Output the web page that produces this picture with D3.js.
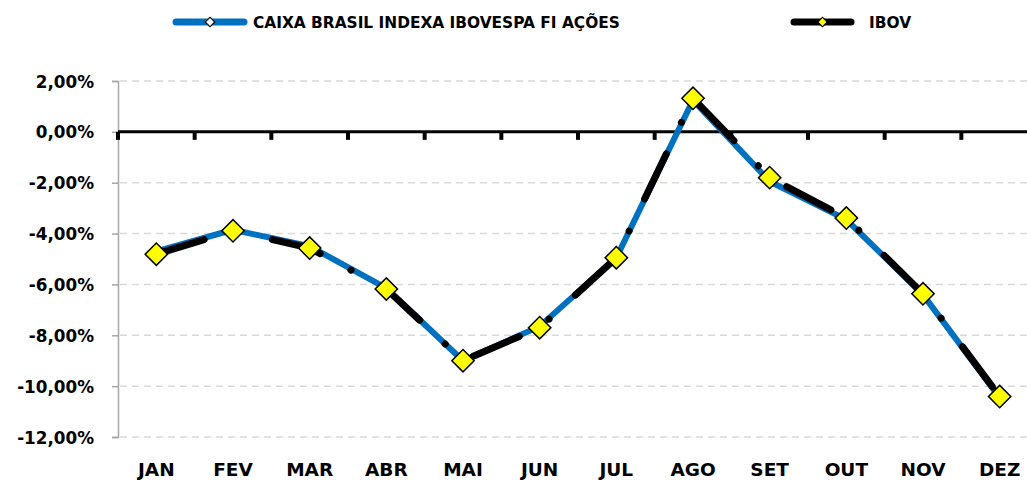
<!DOCTYPE html>
<html>
<head>
<meta charset="utf-8">
<script src="https://cdn.jsdelivr.net/npm/d3@7"></script>
<style>
body { margin: 0; background: #fff; }
svg { display: block; font-family: "DejaVu Sans", sans-serif; font-weight: bold; }
</style>
</head>
<body>
<script>
var months = ['JAN','FEV','MAR','ABR','MAI','JUN','JUL','AGO','SET','OUT','NOV','DEZ'];
var fundo = [-4.70,-3.85,-4.50,-6.15,-9.00,-7.65,-4.95,1.25,-1.95,-3.45,-6.40,-10.45];
var ibov  = [-4.81,-3.89,-4.57,-6.18,-9.00,-7.70,-4.95,1.32,-1.80,-3.39,-6.37,-10.41];
var yTicks = [2,0,-2,-4,-6,-8,-10,-12];

var width = 1027, height = 483;

var svg = d3.select('body')
			.append('svg')
			.attr('width',width)
			.attr('height',height);

var x = d3.scaleBand()
			.domain(months)
			.range([118,1038]);

var y = d3.scaleLinear()
			.domain([-12,2])
			.range([437,81]);

var fmt = function(v){ return v.toFixed(2).replace('.',',') + '%'; };

// grid lines
svg.append('g')
	.selectAll('line')
	.data(yTicks.filter(function(d){ return d !== 0; }))
	.enter()
	.append('line')
	.attr('x1',120)
	.attr('x2',width)
	.attr('y1',function(d){ return y(d); })
	.attr('y2',function(d){ return y(d); })
	.attr('stroke','#d9d9d9')
	.attr('stroke-width',1.5)
	.attr('stroke-dasharray','7,5');

// y axis
var yAxis = d3.axisLeft(y)
				.tickValues(yTicks)
				.tickSize(6)
				.tickFormat(fmt);
var gy = svg.append('g')
			.attr('transform','translate(118,0)')
			.call(yAxis);
gy.select('.domain').attr('stroke','#a6a6a6').attr('stroke-width',1.5);
gy.selectAll('.tick line').attr('stroke','#a6a6a6').attr('stroke-width',1.5);
gy.selectAll('.tick text')
	.attr('x',-24)
	.attr('dy','0.36em')
	.attr('fill','#000')
	.style('font-size','16.8px')
	.style('font-family','"DejaVu Sans", sans-serif')
	.style('font-weight','bold');

// zero line with ticks at category boundaries
svg.append('line')
	.attr('x1',118)
	.attr('x2',width)
	.attr('y1',y(0))
	.attr('y2',y(0))
	.attr('stroke','#000')
	.attr('stroke-width',3);

svg.append('g')
	.selectAll('line')
	.data(months)
	.enter()
	.append('line')
	.attr('x1',function(d){ return x(d); })
	.attr('x2',function(d){ return x(d); })
	.attr('y1',y(0))
	.attr('y2',y(0)+8)
	.attr('stroke','#000')
	.attr('stroke-width',4);

// x labels
svg.append('g')
	.selectAll('text')
	.data(months)
	.enter()
	.append('text')
	.attr('x',function(d){ return x(d) + x.bandwidth()/2; })
	.attr('y',476)
	.attr('text-anchor','middle')
	.style('font-size','18.5px')
	.text(function(d){ return d; });

var line = d3.line()
			.x(function(d,i){ return x(months[i]) + x.bandwidth()/2; })
			.y(function(d){ return y(d); });

svg.append('path')
	.datum(fundo)
	.attr('d',line)
	.attr('fill','none')
	.attr('stroke','#0070c0')
	.attr('stroke-width',6)
	.attr('stroke-linejoin','round');

svg.append('path')
	.datum(ibov)
	.attr('d',line)
	.attr('fill','none')
	.attr('stroke','#000')
	.attr('stroke-width',7)
	.attr('stroke-linecap','round')
	.attr('stroke-dasharray','50,35,0.01,35.6');

var diamond = d3.symbol().type(d3.symbolSquare).size(250);

svg.append('g')
	.selectAll('path')
	.data(ibov)
	.enter()
	.append('path')
	.attr('d',diamond)
	.attr('transform',function(d,i){ return 'translate(' + (x(months[i]) + x.bandwidth()/2) + ',' + y(d) + ') rotate(45)'; })
	.attr('fill','#ffff00')
	.attr('stroke','#000')
	.attr('stroke-width',1.5);

// legend
var legend = [
	{name:'CAIXA BRASIL INDEXA IBOVESPA FI AÇÕES', color:'#0070c0', fill:'#fff', x0:176, x1:244, tx:253},
	{name:'IBOV', color:'#000', fill:'#ffff00', x0:794, x1:851, tx:869}
];
var lg = svg.append('g')
			.selectAll('g')
			.data(legend)
			.enter()
			.append('g');
lg.append('line')
	.attr('x1',function(d){ return d.x0; })
	.attr('x2',function(d){ return d.x1; })
	.attr('y1',22)
	.attr('y2',22)
	.attr('stroke',function(d){ return d.color; })
	.attr('stroke-width',7)
	.attr('stroke-linecap','round');
lg.append('path')
	.attr('d',d3.symbol().type(d3.symbolSquare).size(45))
	.attr('transform',function(d){ return 'translate(' + ((d.x0+d.x1)/2) + ',22) rotate(45)'; })
	.attr('fill',function(d){ return d.fill; })
	.attr('stroke','#000')
	.attr('stroke-width',1.2);
lg.append('text')
	.attr('x',function(d){ return d.tx; })
	.attr('y',28)
	.style('font-size','15.4px')
	.text(function(d){ return d.name; });
</script>
</body>
</html>
